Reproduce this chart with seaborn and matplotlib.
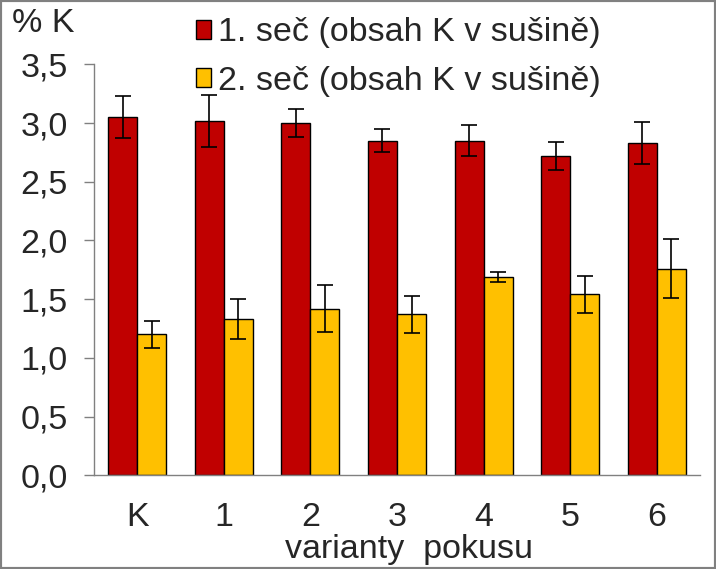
import matplotlib
matplotlib.use("Agg")
import matplotlib.pyplot as plt
import seaborn as sns
import pandas as pd
import numpy as np
from matplotlib.patches import Rectangle, Patch
from matplotlib.ticker import FuncFormatter

categories = ["K", "1", "2", "3", "4", "5", "6"]
series_names = ["1. seč (obsah K v sušině)", "2. seč (obsah K v sušině)"]
cut1_values = [3.05, 3.02, 3.00, 2.85, 2.85, 2.72, 2.83]
cut1_errors = [0.18, 0.22, 0.12, 0.10, 0.13, 0.12, 0.18]
cut2_values = [1.20, 1.33, 1.42, 1.37, 1.69, 1.54, 1.76]
cut2_errors = [0.115, 0.17, 0.20, 0.16, 0.04, 0.16, 0.25]
colors = ["#C00000", "#FFC000"]

df = pd.DataFrame({
    "varianta": categories * 2,
    "seč": [series_names[0]] * len(categories) + [series_names[1]] * len(categories),
    "K": cut1_values + cut2_values,
    "err": cut1_errors + cut2_errors,
})

sns.set_style("white")
plt.rcParams['font.family'] = ['Liberation Sans', 'DejaVu Sans']
FS = 24.5

fig = plt.figure(figsize=(7.16, 5.69), dpi=100)
ax = fig.add_axes([94/716, 1 - 475.3/569, (700-94)/716, (475.3-64.3)/569])

sns.barplot(data=df, x="varianta", y="K", hue="seč", order=categories,
            hue_order=series_names, palette=colors, width=0.67,
            edgecolor="black", linewidth=1.0, errorbar=None, ax=ax, saturation=1)

# error bars at the bar centres produced by seaborn
for container, errs in zip(ax.containers, [cut1_errors, cut2_errors]):
    xs = [p.get_x() + p.get_width() / 2 for p in container]
    ys = [p.get_height() for p in container]
    ax.errorbar(xs, ys, yerr=errs, fmt="none", ecolor="black",
                elinewidth=1.2, capsize=6, capthick=1.2, zorder=5)

ax.set_xlim(-0.5, 6.5)
ax.set_ylim(0, 3.5)
ax.set_yticks(np.arange(0, 3.51, 0.5))
ax.yaxis.set_major_formatter(FuncFormatter(lambda v, p: f"{v:.1f}".replace(".", ",")))
ax.set_ylabel("")
ax.set_xlabel("varianty  pokusu", fontsize=FS, labelpad=0)
ax.xaxis.set_label_coords((409 - 94) / 606, -0.18)
ax.xaxis.get_label().set_va("center")

for s in ["top", "right"]:
    ax.spines[s].set_visible(False)
for s in ["left", "bottom"]:
    ax.spines[s].set_color("#808080")
    ax.spines[s].set_linewidth(1.0)

ax.tick_params(axis="y", direction="out", length=7, width=1, color="#808080",
               labelsize=FS, pad=12, left=True)
ax.tick_params(axis="x", length=0, labelsize=FS, pad=19)

if ax.get_legend() is not None:
    ax.get_legend().remove()

handles = [Patch(facecolor=c, edgecolor="black", linewidth=1.0) for c in colors]
fig.legend(handles, series_names, loc="center left", bbox_to_anchor=(196/716, 1 - 57/569),
           frameon=False, fontsize=FS, handlelength=0.45, handleheight=0.45,
           handletextpad=0.2, labelspacing=0.5, borderaxespad=0, borderpad=0)

fig.text(12/716, 1 - 24/569, "% K", fontsize=FS, va="center", ha="left")

fig.patches.append(Rectangle((0, 0), 1, 1, transform=fig.transFigure, fill=False,
                             edgecolor="#808080", linewidth=3, zorder=10))

fig.savefig("out.png", dpi=100)
